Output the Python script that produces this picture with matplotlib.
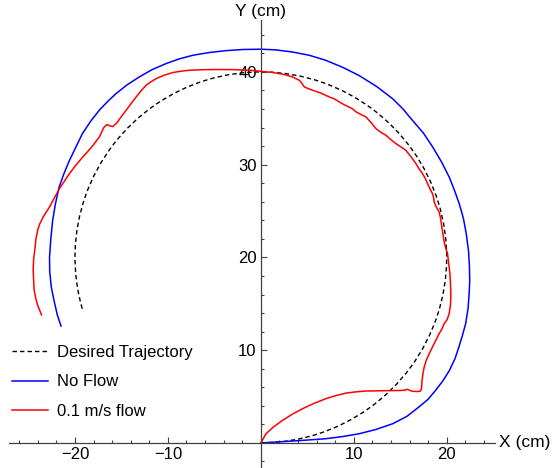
import matplotlib.pyplot as plt
from matplotlib.patches import Arc
from matplotlib.lines import Line2D

plt.rcParams['font.family'] = ['Liberation Sans', 'DejaVu Sans']

# desired circular path: centre, radius, start/end angle (deg)
target_center = (0.0, 20.0)
target_radius = 20.0
target_angles = (-90.0, 196.3)

# measured path without flow
noflow_x = [0.0, 1.5, 3.4, 5.2, 7.0, 8.8, 10.6, 12.4, 14.2, 15.7, 17.0, 18.0, 18.8,
            19.6, 20.3, 20.9, 21.3, 21.7, 22.05, 22.3, 22.42, 22.48, 22.45, 22.35,
            22.1, 21.8, 21.35, 20.85, 20.3, 19.5, 18.5, 17.5, 16.3, 15.3, 14.2,
            12.5, 10.6, 8.8, 7.0, 5.2, 3.4, 1.6, 0.0, -1.9, -3.7, -5.5, -7.3, -8.8,
            -10.2, -11.7, -13.1, -14.4, -15.6, -16.5, -17.4, -18.3, -19.2, -19.9,
            -20.6, -21.2, -21.7, -22.1, -22.4, -22.6, -22.74, -22.72, -22.55, -22.2,
            -21.9, -21.5]
noflow_y = [0.0, 0.08, 0.2, 0.32, 0.45, 0.68, 0.99, 1.45, 2.07, 2.85, 3.86, 4.7,
            5.66, 6.7, 7.82, 9.1, 10.3, 11.6, 12.9, 14.5, 16.1, 17.5, 19.0, 20.7,
            22.6, 24.2, 25.8, 27.2, 28.6, 30.2, 31.9, 33.4, 34.8, 36.0, 37.1, 38.4,
            39.6, 40.5, 41.25, 41.8, 42.15, 42.38, 42.45, 42.42, 42.3, 42.1, 41.8,
            41.4, 40.9, 40.25, 39.45, 38.6, 37.65, 36.8, 35.85, 34.7, 33.35, 31.9,
            30.45, 29.0, 27.6, 25.8, 24.0, 22.0, 20.0, 18.5, 16.8, 15.1, 13.8, 12.6]

# measured path with 0.1 m/s flow
flow_x = [0.0, 0.56, 1.4, 2.34, 3.4, 4.5, 5.7, 7.0, 8.1, 9.16, 10.2, 11.31, 12.4,
          13.46, 14.4, 15.25, 15.6, 15.79, 16.0, 16.32, 16.86, 17.2, 17.29, 17.35,
          17.45, 17.58, 17.8, 18.12, 18.6, 19.19, 19.5, 19.73, 20.05, 20.27, 20.4,
          20.45, 20.42, 20.35, 20.2, 20.09, 19.9, 19.73, 19.6, 19.48, 19.35, 19.19,
          18.9, 18.66, 18.6, 18.47, 18.2, 17.94, 17.7, 17.4, 17.0, 16.69, 16.2,
          15.61, 15.1, 14.54, 14.0, 13.46, 12.9, 12.39, 11.9, 11.31, 10.7, 10.24,
          9.9, 9.52, 8.9, 8.44, 7.9, 7.37, 6.5, 5.57, 5.1, 4.68, 4.4, 4.14, 3.42,
          2.4, 1.2, -0.16, -1.24, -3.0, -4.82, -6.3, -7.69, -8.6, -9.48, -10.4,
          -11.27, -11.8, -12.34, -12.9, -13.42, -13.95, -14.49, -15.0, -15.5,
          -15.93, -16.25, -16.58, -16.9, -17.37, -18.2, -19.16, -19.9, -20.59,
          -21.67, -22.74, -23.4, -23.8, -24.0, -24.2, -24.3, -24.45, -24.5, -24.45,
          -24.4, -24.2, -24.0, -23.6]
flow_y = [0.0, 0.99, 1.75, 2.43, 3.1, 3.69, 4.25, 4.77, 5.1, 5.37, 5.5, 5.59, 5.61,
          5.63, 5.64, 5.66, 5.72, 5.78, 5.68, 5.56, 5.54, 5.6, 5.9, 6.74, 7.5,
          8.18, 8.9, 9.62, 10.6, 11.78, 12.3, 12.86, 13.3, 13.94, 14.8, 15.73,
          17.0, 18.25, 19.5, 20.41, 21.0, 21.66, 22.5, 23.28, 24.2, 24.9, 25.4,
          25.98, 26.4, 26.88, 27.4, 27.96, 28.5, 29.04, 29.6, 30.12, 30.8, 31.55,
          31.9, 32.27, 32.7, 33.17, 33.5, 33.89, 34.5, 35.15, 35.45, 35.7, 36.0,
          36.2, 36.5, 36.77, 37.1, 37.3, 37.7, 38.03, 38.2, 38.38, 38.8, 39.1,
          39.46, 39.75, 39.95, 40.08, 40.18, 40.25, 40.26, 40.24, 40.18, 40.08,
          39.93, 39.65, 39.28, 38.95, 38.56, 37.95, 37.3, 36.6, 35.87, 35.2, 34.5,
          34.1, 34.2, 34.32, 34.0, 33.0, 31.9, 30.83, 29.95, 29.04, 27.42, 25.44,
          24.4, 23.6, 23.0, 22.0, 21.0, 19.8, 18.7, 17.6, 16.5, 15.5, 14.8, 13.8]

fig = plt.figure(figsize=(5.52, 4.68), dpi=100)
ax = fig.add_axes([9 / 552, 1 / 468, 486 / 552, 447 / 468])
ax.set_xlim(-27.1, 25.2)
ax.set_ylim(-2.6, 45.6)

axis_color = '#404040'
for side in ('top', 'right'):
    ax.spines[side].set_visible(False)
ax.spines['left'].set_position(('data', 0))
ax.spines['bottom'].set_position(('data', 0))
for side in ('left', 'bottom'):
    ax.spines[side].set_color(axis_color)
    ax.spines[side].set_linewidth(0.9)

ax.set_xticks([-20, -10, 10, 20])
ax.set_xticks([v for v in range(-26, 25, 2) if v % 10 != 0], minor=True)
ax.set_yticks([10, 20, 30, 40])
ax.set_yticks([v for v in range(-2, 46, 2) if v % 10 != 0], minor=True)
ax.set_xticklabels(['\u221220', '\u221210', '10', '20'])
ax.tick_params(which='both', direction='in', color=axis_color, width=0.8,
               labelsize=12, labelcolor='black')
ax.tick_params(which='major', length=4.5, pad=3)
ax.tick_params(which='minor', length=2.5)

# desired trajectory as a dashed arc
dash = (0, (3.2, 2.2))
arc = Arc(target_center, 2 * target_radius, 2 * target_radius,
          theta1=target_angles[0], theta2=target_angles[1],
          color='black', lw=1.0, linestyle=dash)
ax.add_patch(arc)

ax.plot(noflow_x, noflow_y, color='#0000ff', lw=1.1)
ax.plot(flow_x, flow_y, color='#ff0000', lw=1.1)

ax.text(0, 46.5, 'Y (cm)', ha='center', va='center', fontsize=12.5, clip_on=False)
ax.text(25.6, 0, 'X (cm)', ha='left', va='center', fontsize=12.5, clip_on=False)

handles = [
    Line2D([], [], color='black', lw=1.0, linestyle=dash),
    Line2D([], [], color='#0000ff', lw=1.1),
    Line2D([], [], color='#ff0000', lw=1.1),
]
labels = ['Desired Trajectory', 'No Flow', '0.1 m/s flow']
fig.legend(handles, labels, loc='upper left', bbox_to_anchor=(12 / 552, 1 - 345 / 468),
           frameon=False, fontsize=12, handlelength=2.15, handletextpad=0.54,
           labelspacing=0.87, borderpad=0, borderaxespad=0)

fig.savefig('out.png', dpi=100)
